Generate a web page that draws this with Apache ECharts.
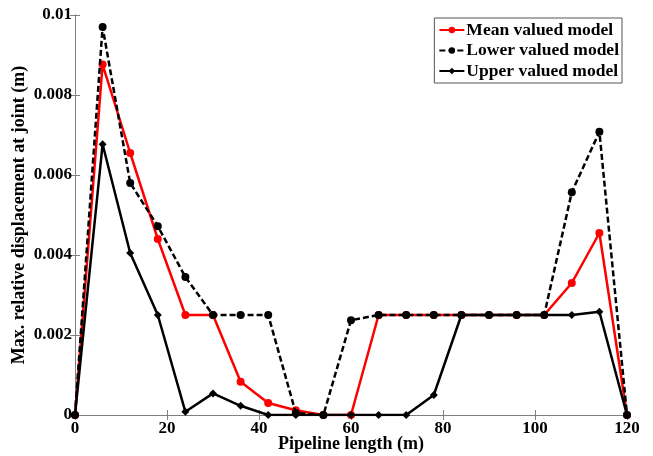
<!DOCTYPE html>
<html>
<head>
<meta charset="utf-8">
<script src="https://cdn.jsdelivr.net/npm/echarts@6/dist/echarts.min.js"></script>
<style>
  html, body { margin: 0; padding: 0; background: #fff; }
  #chart { width: 653px; height: 456px; }
</style>
</head>
<body>
<div id="chart"></div>
<script>
// pipeline length (m)
const lengths = [0, 6, 12, 18, 24, 30, 36, 42, 48, 54, 60, 66, 72, 78, 84, 90, 96, 102, 108, 114, 120];

const meanModel = [0, 0.00876, 0.00655, 0.0044, 0.0025, 0.0025, 0.00083, 0.0003, 0.00012, 0, 0,
  0.0025, 0.0025, 0.0025, 0.0025, 0.0025, 0.0025, 0.0025, 0.0033, 0.00455, 0];
const lowerModel = [0, 0.0097, 0.0058, 0.00472, 0.00345, 0.0025, 0.0025, 0.0025, 0.00005, 0, 0.00237,
  0.0025, 0.0025, 0.0025, 0.0025, 0.0025, 0.0025, 0.0025, 0.00557, 0.00708, 0];
const upperModel = [0, 0.00677, 0.00405, 0.0025, 0.00008, 0.00054, 0.00023, 0, 0, 0, 0,
  0, 0, 0.0005, 0.0025, 0.0025, 0.0025, 0.0025, 0.0025, 0.00258, 0];

const seriesNames = ['Mean valued model', 'Lower valued model', 'Upper valued model'];

const fontFamily = '"Liberation Serif", "Times New Roman", serif';
const axisGray = '#808080';

const pairs = (ys) => lengths.map((x, i) => [x, ys[i]]);

const chart = echarts.init(document.getElementById('chart'));

const baseX = {
  type: 'value',
  min: 0,
  max: 120,
  interval: 20,
  axisLine: { show: true, lineStyle: { color: axisGray, width: 1 } },
  axisTick: { show: true, inside: true, length: 5, lineStyle: { color: axisGray } },
  splitLine: { show: false },
};

const baseY = {
  type: 'value',
  min: 0,
  max: 0.01,
  interval: 0.002,
  axisLine: { show: true, lineStyle: { color: axisGray, width: 1 } },
  axisTick: { show: true, inside: true, length: 5, lineStyle: { color: axisGray } },
  splitLine: { show: false },
};

const tickStyle = { color: '#000', fontFamily, fontWeight: 'bold', fontSize: 17 };
const titleStyle = { color: '#000', fontFamily, fontWeight: 'bold', fontSize: 18 };

chart.setOption({
  backgroundColor: '#fff',
  animation: false,
  grid: { left: 75, right: 26, top: 15, bottom: 41, outerBoundsMode: 'none', containLabel: false },
  legend: {
    data: seriesNames,
    orient: 'vertical',
    right: 31,
    top: 18,
    itemWidth: 25,
    itemHeight: 8,
    itemGap: 2.5,
    padding: [3, 3, 3, 4],
    borderColor: '#555',
    borderWidth: 1,
    backgroundColor: '#fff',
    textStyle: { color: '#000', fontFamily, fontWeight: 'bold', fontSize: 17.5, padding: [0, 0, 0, -3] },
  },
  xAxis: [
    {
      ...baseX,
      position: 'bottom',
      name: 'Pipeline length (m)',
      nameLocation: 'middle',
      nameGap: 20,
      nameMoveOverlap: false,
      nameTextStyle: titleStyle,
      axisLabel: { ...tickStyle, margin: 5 },
    },
    {
      ...baseX,
      position: 'top',
      axisLabel: { show: false },
    },
  ],
  yAxis: [
    {
      ...baseY,
      position: 'left',
      name: 'Max. relative displacement at joint (m)',
      nameLocation: 'middle',
      nameGap: 47,
      nameMoveOverlap: false,
      nameTextStyle: titleStyle,
      axisLabel: {
        ...tickStyle,
        margin: 3,
        formatter: (v) => String(parseFloat(v.toFixed(4))),
      },
    },
    {
      ...baseY,
      position: 'right',
      axisLabel: { show: false },
    },
  ],
  series: [
    {
      name: seriesNames[0],
      type: 'line',
      data: pairs(meanModel),
      symbol: 'circle',
      symbolSize: 8,
      itemStyle: { color: '#ff0000' },
      lineStyle: { color: '#ff0000', width: 2.5 },
      z: 3,
    },
    {
      name: seriesNames[1],
      type: 'line',
      data: pairs(lowerModel),
      symbol: 'circle',
      symbolSize: 8,
      itemStyle: { color: '#000' },
      lineStyle: { color: '#000', width: 2.5, type: [6, 3] },
      z: 4,
    },
    {
      name: seriesNames[2],
      type: 'line',
      data: pairs(upperModel),
      symbol: 'diamond',
      symbolSize: 8,
      itemStyle: { color: '#000' },
      lineStyle: { color: '#000', width: 2.5 },
      z: 5,
    },
  ],
});
</script>
</body>
</html>
